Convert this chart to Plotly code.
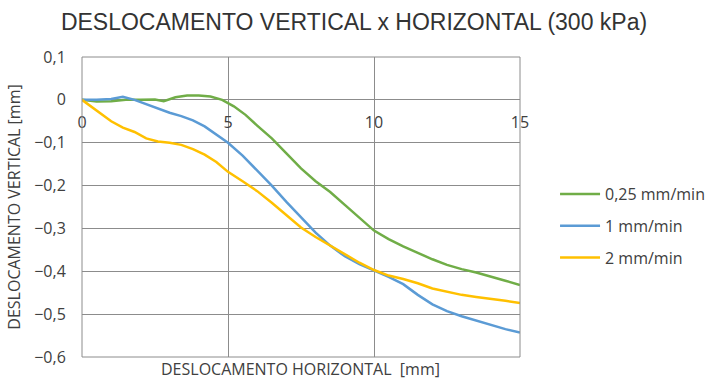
import plotly.graph_objects as go

# ── 데이터 ──
x_025 = [0, 0.5, 1, 1.5, 2, 2.5, 2.8, 3.2, 3.6, 4, 4.4, 4.8, 5.2, 5.6, 6, 6.5, 7, 7.5, 8,
         8.5, 9, 9.5, 10, 10.5, 11, 11.5, 12, 12.5, 13, 13.5, 14, 14.5, 15]
y_025 = [0, -0.004, -0.003, 0, 0, 0.001, -0.003, 0.006, 0.01, 0.01, 0.008, 0, -0.015,
         -0.035, -0.06, -0.09, -0.125, -0.16, -0.19, -0.215, -0.245, -0.275, -0.305,
         -0.325, -0.342, -0.357, -0.372, -0.385, -0.395, -0.403, -0.412, -0.422, -0.432]

x_1 = [0, 0.5, 1, 1.4, 1.8, 2.2, 2.6, 3, 3.4, 3.8, 4.2, 4.6, 5, 5.5, 6, 6.5, 7, 7.5, 8,
       8.5, 9, 9.5, 10, 10.5, 11, 11.5, 12, 12.5, 13, 13.5, 14, 14.5, 15]
y_1 = [0, 0, 0.002, 0.007, 0, -0.01, -0.02, -0.03, -0.038, -0.048, -0.062, -0.08, -0.1,
       -0.13, -0.165, -0.2, -0.238, -0.275, -0.31, -0.34, -0.365, -0.383, -0.398, -0.413,
       -0.43, -0.455, -0.477, -0.493, -0.505, -0.515, -0.525, -0.535, -0.543]

x_2 = [0, 0.3, 0.6, 1, 1.4, 1.8, 2.2, 2.6, 3, 3.4, 3.8, 4.2, 4.6, 5, 5.5, 6, 6.5, 7, 7.5,
       8, 8.5, 9, 9.5, 10, 10.5, 11, 11.5, 12, 12.5, 13, 13.5, 14, 14.5, 15]
y_2 = [0, -0.015, -0.03, -0.05, -0.065, -0.075, -0.09, -0.097, -0.1, -0.105, -0.115,
       -0.128, -0.145, -0.168, -0.19, -0.213, -0.24, -0.27, -0.298, -0.32, -0.34, -0.36,
       -0.38, -0.397, -0.41, -0.418, -0.428, -0.44, -0.448, -0.455, -0.46, -0.464,
       -0.469, -0.474]

series = [
    ("0,25 mm/min", x_025, y_025, "#70AD47"),
    ("1 mm/min", x_1, y_1, "#5B9BD5"),
    ("2 mm/min", x_2, y_2, "#FFC000"),
]

x_ticks = [0, 5, 10, 15]
y_ticks = [0.1, 0, -0.1, -0.2, -0.3, -0.4, -0.5, -0.6]
y_min, y_max = -0.6, 0.1

FONT = "Open Sans"
TXT = "#404040"
GRID = "#8c8c8c"

fig = go.Figure()
for name, xs, ys, color in series:
    fig.add_trace(go.Scatter(x=xs, y=ys, mode="lines", name=name, legendgroup=name,
                             line=dict(color=color, width=2.5)))

fig.update_layout(
    width=712, height=381,
    margin=dict(l=82, r=192, t=57, b=24, autoexpand=False),
    paper_bgcolor="white", plot_bgcolor="white",
    separators=",.",
    font=dict(family=FONT, size=16, color=TXT),
    title=dict(text="DESLOCAMENTO VERTICAL x HORIZONTAL (300 kPa)",
               x=354 / 712, xanchor="center", y=1 - 22 / 381, yanchor="middle",
               font=dict(family="Liberation Sans", size=23, color="#333333")),
    xaxis=dict(range=[0, 15], tickvals=x_ticks, showgrid=True, gridcolor=GRID,
               gridwidth=1, zeroline=False, showline=False,
               anchor="free", position=(0 - y_min) / (y_max - y_min),
               ticks="outside", ticklen=8, tickcolor="rgba(0,0,0,0)",
               tickfont=dict(size=16, color=TXT)),
    yaxis=dict(range=[y_min, y_max], tickvals=y_ticks, showgrid=True, gridcolor=GRID,
               gridwidth=1, zeroline=False, showline=False, automargin=False,
               ticks="outside", ticklen=12, tickcolor="rgba(0,0,0,0)",
               title=dict(text="DESLOCAMENTO VERTICAL [mm]", standoff=9,
                          font=dict(size=16, color=TXT)),
               tickfont=dict(size=16, color=TXT)),
    legend=dict(x=1.08, y=0.60, xanchor="left", yanchor="top",
                font=dict(size=16, color=TXT), traceorder="grouped",
                tracegroupgap=8, itemwidth=40, bgcolor="rgba(0,0,0,0)"),
    shapes=[dict(type="rect", xref="paper", yref="paper", x0=0, x1=1, y0=0, y1=1,
                 line=dict(color=GRID, width=1), fillcolor="rgba(0,0,0,0)")],
    annotations=[dict(text="DESLOCAMENTO HORIZONTAL  [mm]", xref="paper", yref="paper",
                      x=(300 - 82) / 438, y=0, yshift=-12, xanchor="center",
                      yanchor="middle", showarrow=False,
                      font=dict(size=16, color=TXT))],
)

# 브라우저 기본 body 여백 제거
fig.write_html("out.html", config={"displayModeBar": False},
               post_script="document.body.style.margin='0';")
